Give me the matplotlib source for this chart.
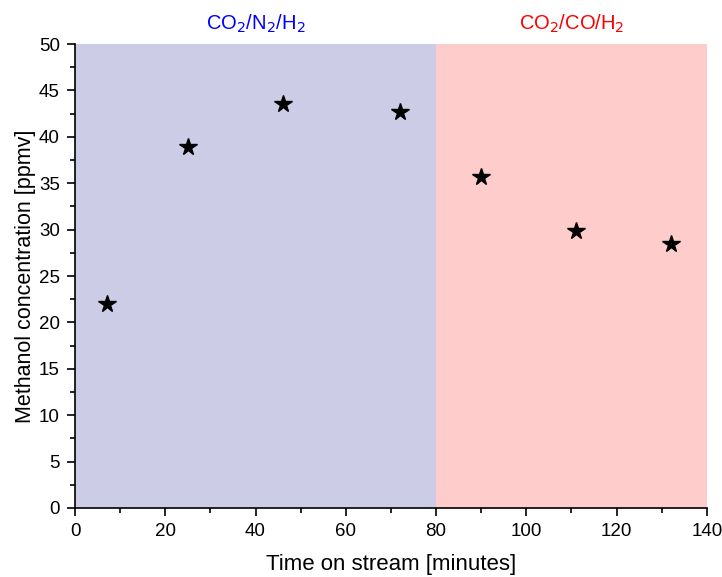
# メタノール濃度の時間変化グラフ

import matplotlib.pyplot as plt

plt.rcParams['font.family'] = ['Liberation Sans', 'DejaVu Sans']

time_min = [7, 25, 46, 72, 90, 111, 132]  # 経過時間 [分]
methanol_ppmv = [22.0, 38.9, 43.5, 42.7, 35.7, 29.8, 28.4]  # メタノール濃度

regions = [(0, 80), (80, 140)]  # ガス組成の切り替え区間
region_labels = ['CO$_2$/N$_2$/H$_2$', 'CO$_2$/CO/H$_2$']
region_colors = ['#CCCCE6', '#FFCCCC']
label_colors = ['#0000FF', '#FF0000']

fig = plt.figure(figsize=(7.22, 5.77), dpi=100)
ax = fig.add_axes([0.1039, 0.1196, 0.8751, 0.8041])

for (x0, x1), lab, c, lc in zip(regions, region_labels, region_colors, label_colors):
    ax.axvspan(x0, x1, color=c, lw=0, zorder=0)
    ax.text((x0 + x1) / 2, 51.0, lab, color=lc, fontsize=14.5, ha='center', va='bottom')

ax.plot(time_min, methanol_ppmv, linestyle='none', marker='*', markersize=13,
        color='black', zorder=3)

ax.set_xlim(0, 140)
ax.set_ylim(0, 50)
ax.set_xticks(range(0, 141, 20))
ax.set_xticks(range(10, 141, 20), minor=True)
ax.set_yticks(range(0, 51, 5))
ax.set_yticks([x + 2.5 for x in range(0, 50, 5)], minor=True)

ax.spines['top'].set_visible(False)
ax.spines['right'].set_visible(False)
for s in ['left', 'bottom']:
    ax.spines[s].set_linewidth(1.2)
ax.tick_params(which='major', direction='out', length=6, width=1.2, labelsize=13.5, pad=5)
ax.tick_params(which='minor', direction='out', length=3.5, width=1.2)

ax.set_xlabel('Time on stream [minutes]', fontsize=16, labelpad=10)
ax.set_ylabel('Methanol concentration [ppmv]', fontsize=15.5, labelpad=2)

plt.savefig('out.png')
